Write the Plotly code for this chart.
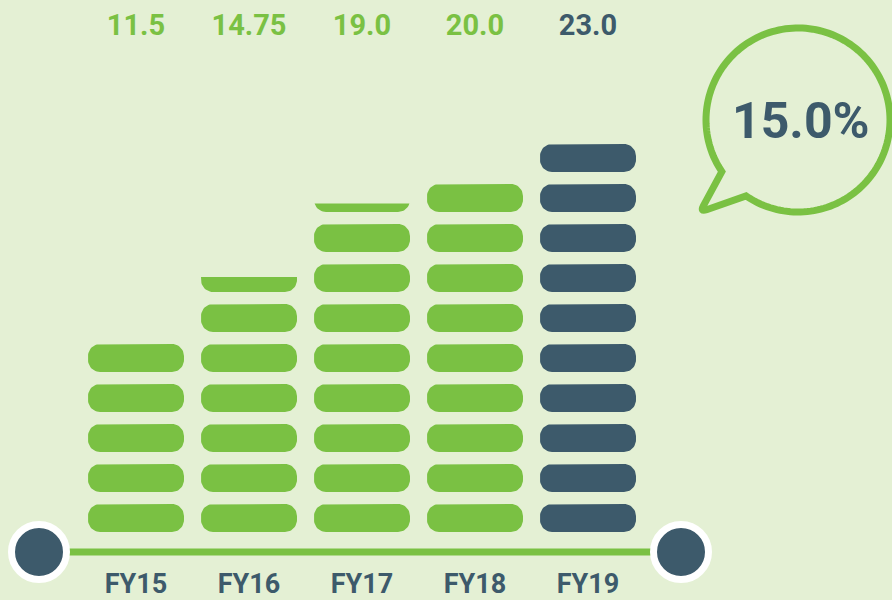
import math
import plotly.graph_objects as go

# ---------------- data ----------------
years = ["FY15", "FY16", "FY17", "FY18", "FY19"]
values = [11.5, 14.75, 19.0, 20.0, 23.0]
full_pills = [5, 6, 8, 9, 10]          # complete pills per year
partial_pill = [0.0, 0.54, 0.30, 0.0, 0.0]  # fraction of the extra pill shown
highlight = [False, False, False, False, True]
growth_label = "15.0%"

# ---------------- style ----------------
BG = "#e4f0d4"
GREEN = "#7ac143"
DARK = "#3d5a6b"
FONT = "Roboto, Liberation Sans, Arial, sans-serif"

W, H = 892, 600
# axis geometry (pixel <-> data)
X0_PX, X_STEP = 136.0, 113.0     # column centre of first category, spacing
Y0_PX, Y_STEP = 538.0, 40.0      # pixel of y=0, pixels per pill slot
x_range = [(0 - X0_PX) / X_STEP, (W - X0_PX) / X_STEP]
y_range = [(Y0_PX - H) / Y_STEP, Y0_PX / Y_STEP]

HALF_W = 48.0 / X_STEP
PILL_LO, PILL_HI = 0.15, 0.85
RX, RY = 12.0 / X_STEP, 12.0 / Y_STEP


def rounded_rect(xc, y0, y1):
    pts = []
    x0, x1 = xc - HALF_W, xc + HALF_W
    corners = [
        (x1 - RX, y1 - RY, 0, 90),
        (x0 + RX, y1 - RY, 90, 180),
        (x0 + RX, y0 + RY, 180, 270),
        (x1 - RX, y0 + RY, 270, 360),
    ]
    for cx, cy, a0, a1 in corners:
        for j in range(13):
            a = math.radians(a0 + (a1 - a0) * j / 12)
            pts.append((cx + RX * math.cos(a), cy + RY * math.sin(a)))
    return pts


def clip_below(pts, ycut):
    out = []
    n = len(pts)
    for i in range(n):
        p, q = pts[i], pts[(i + 1) % n]
        pin, qin = p[1] <= ycut, q[1] <= ycut
        if pin:
            out.append(p)
        if pin != qin:
            t = (ycut - p[1]) / (q[1] - p[1])
            out.append((p[0] + t * (q[0] - p[0]), ycut))
    return out


fig = go.Figure()

for i, yr in enumerate(years):
    xs, ys = [], []
    for k in range(full_pills[i]):
        poly = rounded_rect(i, k + PILL_LO, k + PILL_HI)
        xs += [p[0] for p in poly] + [poly[0][0], None]
        ys += [p[1] for p in poly] + [poly[0][1], None]
    if partial_pill[i] > 0:
        k = full_pills[i]
        poly = rounded_rect(i, k + PILL_LO, k + PILL_HI)
        cut = k + PILL_LO + partial_pill[i] * (PILL_HI - PILL_LO)
        poly = clip_below(poly, cut)
        xs += [p[0] for p in poly] + [poly[0][0], None]
        ys += [p[1] for p in poly] + [poly[0][1], None]
    col = DARK if highlight[i] else GREEN
    fig.add_trace(go.Scatter(
        x=xs, y=ys, mode="lines", fill="toself", fillcolor=col,
        line=dict(width=0, color=col), hoverinfo="skip", showlegend=False))

# value labels on top
fig.add_trace(go.Scatter(
    x=list(range(len(years))), y=[(Y0_PX - 27.5) / Y_STEP] * len(years),
    mode="text", text=[str(v) for v in values],
    textfont=dict(family=FONT, size=29, weight="bold",
                  color=[DARK if h else GREEN for h in highlight]),
    textposition="middle center", hoverinfo="skip", showlegend=False))

# year labels at the bottom
fig.add_trace(go.Scatter(
    x=list(range(len(years))), y=[(Y0_PX - 586.5) / Y_STEP] * len(years),
    mode="text", text=years,
    textfont=dict(family=FONT, size=27, weight="bold", color=DARK),
    textposition="middle center", hoverinfo="skip", showlegend=False))

# baseline with end circles
base_y = (Y0_PX - 552) / Y_STEP
left_x = (39 - X0_PX) / X_STEP
right_x = (681 - X0_PX) / X_STEP
fig.add_shape(type="line", xref="x", yref="y", x0=left_x, x1=right_x,
              y0=base_y, y1=base_y, line=dict(color=GREEN, width=7),
              layer="below")
fig.add_trace(go.Scatter(
    x=[left_x, right_x], y=[base_y, base_y], mode="markers",
    marker=dict(size=55, color=DARK, line=dict(color="white", width=7)),
    hoverinfo="skip", showlegend=False))

# speech bubble
cx, cy, r = 798.0, 120.0, 92.0
a2 = math.atan2(195.0 - cy, 746.7 - cx)
a1 = math.atan2(171.7 - cy, 721.7 - cx) - 2 * math.pi
tip = (700.0, 212.0)


def P(x, y):
    return f"{x / W:.5f},{1 - y / H:.5f}"


pts = []
N = 160
for j in range(N + 1):
    a = a2 + (a1 - a2) * j / N
    pts.append((cx + r * math.cos(a), cy + r * math.sin(a)))
att1 = pts[-1]
att2 = pts[0]


def toward(p, q, d):
    dx, dy = q[0] - p[0], q[1] - p[1]
    L = math.hypot(dx, dy)
    return (p[0] + dx / L * d, p[1] + dy / L * d)


pa = toward(tip, att1, 7)
pb = toward(tip, att2, 7)
path = "M " + P(*pts[0]) + " " + " ".join("L " + P(*p) for p in pts[1:])
path += " L " + P(*pa) + " Q " + P(*tip) + " " + P(*pb) + " Z"
fig.add_shape(type="path", xref="paper", yref="paper", path=path,
              line=dict(color=GREEN, width=7), fillcolor=BG, layer="below")

fig.add_annotation(x=800.5 / W, y=1 - 121 / H, xref="paper", yref="paper",
                   text=growth_label, showarrow=False, xanchor="center",
                   yanchor="middle",
                   font=dict(family=FONT, size=50, weight="bold", color=DARK))

fig.update_layout(
    width=W, height=H, margin=dict(l=0, r=0, t=0, b=0),
    paper_bgcolor=BG, plot_bgcolor=BG, showlegend=False, hovermode=False,
    xaxis=dict(range=x_range, visible=False, fixedrange=True),
    yaxis=dict(range=y_range, visible=False, fixedrange=True),
)

fig.write_html("out.html",
               config={"displayModeBar": False, "staticPlot": True},
               post_script="document.body.style.margin='0';"
                           "document.body.style.background='" + BG + "';")
